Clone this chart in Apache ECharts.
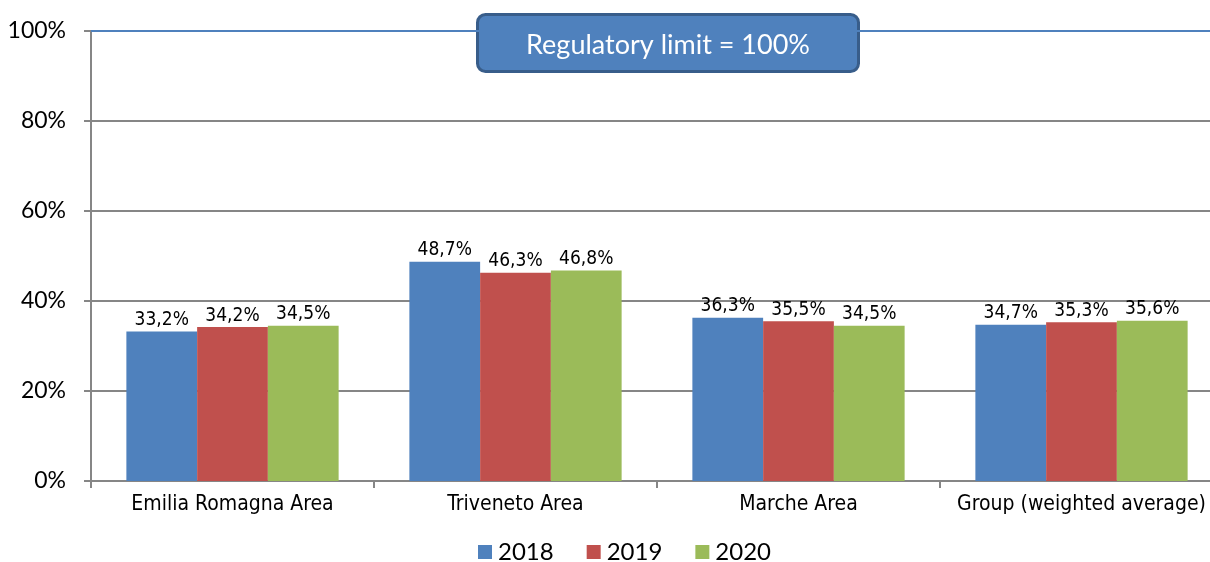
<!DOCTYPE html>
<html>
<head>
<meta charset="utf-8">
<script src="https://cdn.jsdelivr.net/npm/echarts@6/dist/echarts.min.js"></script>
<style>
  html, body { margin: 0; padding: 0; background: #fff; overflow: hidden; }
  #chart { width: 1210px; height: 562px; }
</style>
</head>
<body>
<div id="chart"></div>
<script>
// Areas and yearly ratios (percent)
const categories = ['Emilia Romagna Area', 'Triveneto Area', 'Marche Area', 'Group (weighted average)'];
const years = ['2018', '2019', '2020'];
const values2018 = [33.2, 48.7, 36.3, 34.7];
const values2019 = [34.2, 46.3, 35.5, 35.3];
const values2020 = [34.5, 46.8, 34.5, 35.6];
const yTicks = [0, 20, 40, 60, 80, 100];
const limitValue = 100;
const limitText = 'Regulatory limit = 100%';

const colors = ['#4F81BD', '#C0504D', '#9BBB59'];
const seriesValues = [values2018, values2019, values2020];

const fmt = v => v.toFixed(1).replace('.', ',') + '%';

const chart = echarts.init(document.getElementById('chart'));

const series = years.map((y, i) => ({
  name: y,
  type: 'bar',
  data: seriesValues[i],
  barGap: '0%',
  barCategoryGap: '25%',
  itemStyle: { color: colors[i] },
  label: {
    show: true,
    position: 'top',
    distance: 2,
    formatter: p => fmt(p.value),
    fontFamily: 'DejaVu Sans Condensed',
    fontSize: 19,
    color: '#000'
  },
  markLine: i === 0 ? {
    silent: true,
    symbol: 'none',
    label: { show: false },
    lineStyle: { color: '#4F81BD', width: 2, type: 'solid' },
    data: [{ yAxis: limitValue }]
  } : undefined
}));

chart.setOption({
  animation: false,
  backgroundColor: '#fff',
  // plot area runs past the right edge of the canvas
  grid: { left: 91, top: 31, width: 1132, height: 450, outerBoundsMode: 'none', containLabel: false },
  legend: {
    top: 535,
    left: 473,
    itemWidth: 14,
    itemHeight: 14,
    itemGap: 33,
    icon: 'rect',
    textStyle: { fontFamily: 'Lato', fontSize: 24, color: '#000', padding: [0, 0, 0, 1] },
    data: years
  },
  xAxis: {
    type: 'category',
    data: categories,
    axisLine: { lineStyle: { color: '#868686', width: 2 } },
    axisTick: { show: true, interval: 0, length: 7, lineStyle: { color: '#868686', width: 2 } },
    axisLabel: { interval: 0, fontFamily: 'DejaVu Sans Condensed', fontSize: 21, color: '#000', margin: 13 }
  },
  yAxis: {
    type: 'value',
    min: 0,
    max: 100,
    interval: 20,
    axisLine: { show: true, lineStyle: { color: '#868686', width: 2 } },
    axisTick: { show: true, length: 7, lineStyle: { color: '#868686', width: 2 } },
    splitLine: { lineStyle: { color: '#868686', width: 2 } },
    axisLabel: {
      fontFamily: 'Lato',
      fontSize: 23,
      color: '#000',
      margin: 25,
      formatter: v => yTicks.includes(v) ? v + '%' : ''
    }
  },
  series: series,
  graphic: [{
    type: 'group',
    left: 476,
    top: 13,
    children: [
      {
        type: 'rect',
        shape: { x: 0, y: 0, width: 381, height: 57, r: 8 },
        style: { fill: '#4F81BD', stroke: '#385D8A', lineWidth: 3 }
      },
      {
        type: 'text',
        style: {
          x: 190.5, y: 31, text: limitText,
          align: 'center', verticalAlign: 'middle',
          fill: '#fff', font: '27px "Lato"'
        }
      }
    ]
  }]
});
</script>
</body>
</html>
